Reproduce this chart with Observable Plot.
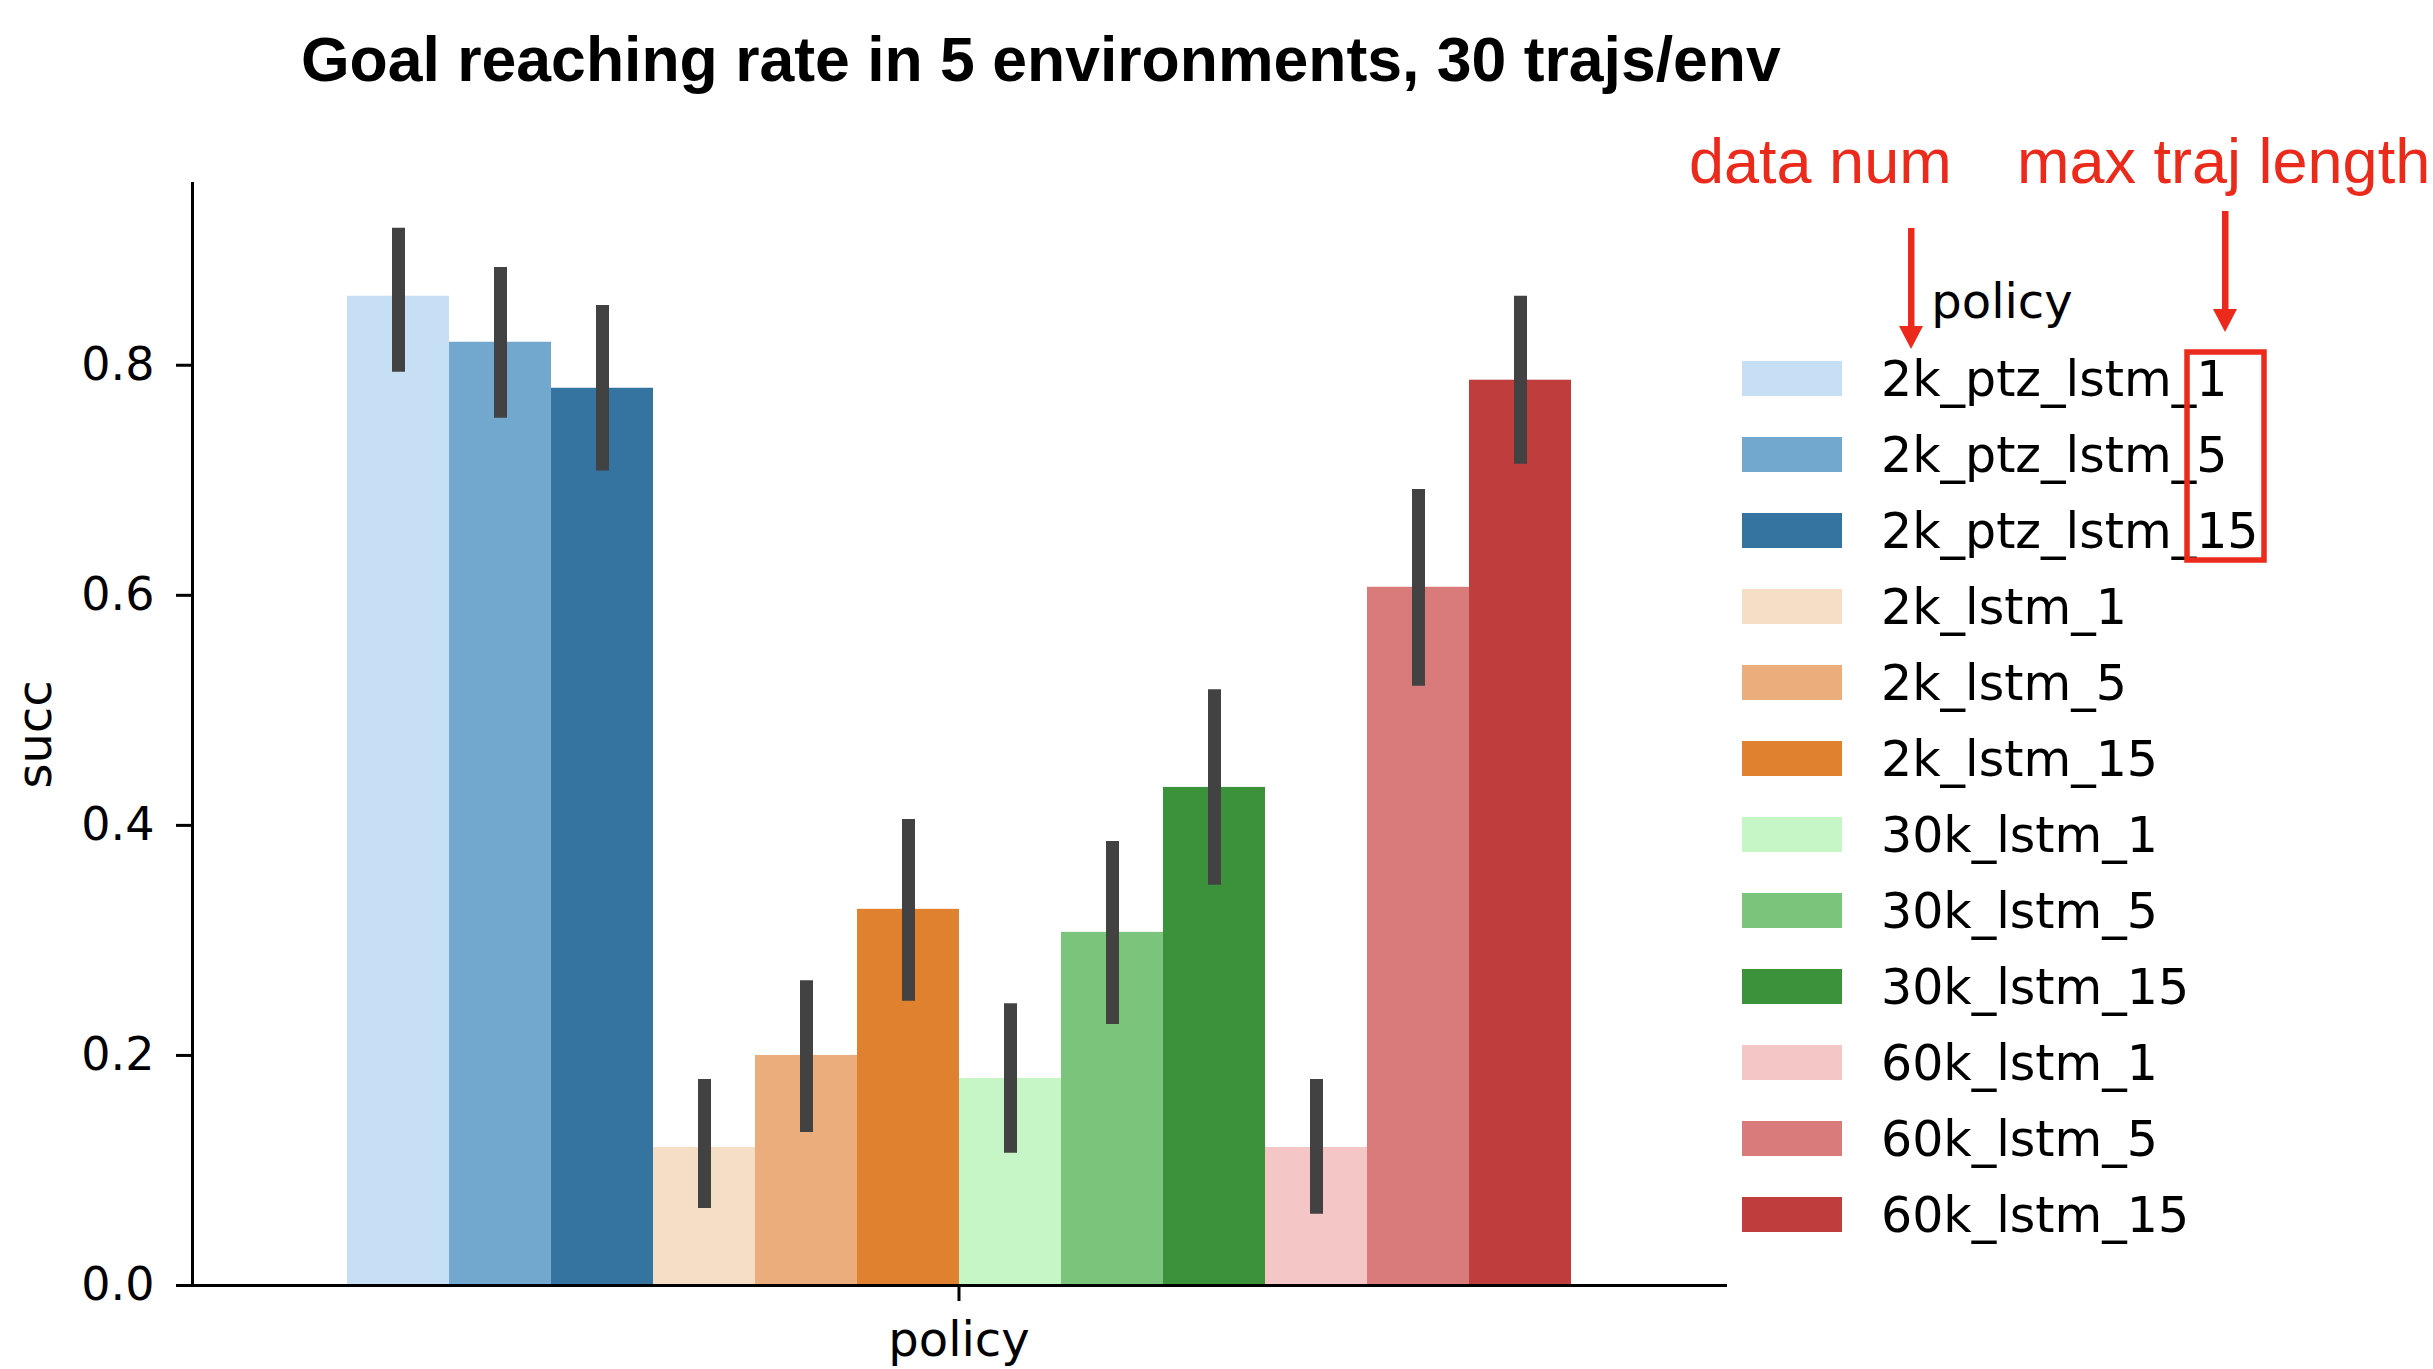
<!DOCTYPE html>
<html>
<head>
<meta charset="utf-8">
<script src="https://cdn.jsdelivr.net/npm/d3@7"></script>
<script src="https://cdn.jsdelivr.net/npm/@observablehq/plot@0.6"></script>
<style>
  html, body { margin: 0; padding: 0; background: #fff; }
  #page { position: relative; width: 2433px; height: 1369px; overflow: hidden; background: #fff; }
  #title { position: absolute; left: 301px; top: 28px; font-family: "Liberation Sans", Arial, sans-serif; font-weight: bold; font-size: 62.5px; line-height: 62.5px; white-space: nowrap; color: #000; }
  #chart { position: absolute; left: 0; top: 120px; }
  .leg-title { position: absolute; font-family: "DejaVu Sans", sans-serif; font-size: 48px; line-height: 48px; white-space: nowrap; color: #000; transform: translateX(-50%); }
  .leg-patch { position: absolute; width: 100px; height: 35px; }
  .leg-label { position: absolute; font-family: "DejaVu Sans", sans-serif; font-size: 49px; line-height: 49px; white-space: nowrap; color: #000; }
  .anno { position: absolute; font-family: "Liberation Sans", Arial, sans-serif; font-size: 63px; line-height: 63px; white-space: nowrap; color: #ec2a1c; }
  #overlay { position: absolute; left: 0; top: 0; pointer-events: none; }
</style>
</head>
<body>
<div id="page">
  <div id="title"></div>
  <div id="chart"></div>
  <div id="legend"></div>
  <div id="annos"></div>
  <svg id="overlay" width="2433" height="1369" xmlns="http://www.w3.org/2000/svg">
    <g fill="#ec2a1c" stroke="none">
      <rect x="1908" y="228" width="6.5" height="100"></rect>
      <polygon points="1899,326 1923,326 1911,349"></polygon>
      <rect x="2222" y="211" width="6.5" height="100"></rect>
      <polygon points="2213,309 2237,309 2225,332"></polygon>
    </g>
    <rect x="2187" y="352" width="77" height="208" fill="none" stroke="#ec2a1c" stroke-width="5.5"></rect>
  </svg>
</div>
<script>
// ---- data ----
const titleText = "Goal reaching rate in 5 environments, 30 trajs/env";
const policies = [
  "2k_ptz_lstm_1", "2k_ptz_lstm_5", "2k_ptz_lstm_15",
  "2k_lstm_1", "2k_lstm_5", "2k_lstm_15",
  "30k_lstm_1", "30k_lstm_5", "30k_lstm_15",
  "60k_lstm_1", "60k_lstm_5", "60k_lstm_15"
];
const succ   = [0.860, 0.820, 0.780, 0.120, 0.200, 0.327, 0.180, 0.307, 0.433, 0.120, 0.607, 0.787];
const ciLow  = [0.794, 0.754, 0.708, 0.067, 0.133, 0.247, 0.115, 0.227, 0.348, 0.062, 0.521, 0.714];
const ciHigh = [0.919, 0.885, 0.852, 0.179, 0.265, 0.405, 0.245, 0.386, 0.518, 0.179, 0.692, 0.860];
const colors = [
  "#c6dff4", "#72a8cd", "#3573a1",
  "#f6dec6", "#ebad7b", "#e0812f",
  "#c6f5c6", "#7bc47c", "#3b923b",
  "#f4c6c6", "#d97b7b", "#bf3d3d"
];
const yTicks = [0, 0.2, 0.4, 0.6, 0.8];
const yMax = 0.958;
const xLabel = "policy";
const yLabel = "succ";
const legendTitle = "policy";
const annoLeft = "data num";
const annoRight = "max traj length";

// ---- table ----
const data = policies.map((p, i) => ({policy: p, succ: succ[i], lo: ciLow[i], hi: ciHigh[i], group: xLabel}));

document.getElementById("title").textContent = titleText;

const chart = Plot.plot({
  width: 1760,
  height: 1249,
  marginTop: 63,
  marginBottom: 84,
  marginLeft: 192,
  marginRight: 35,
  style: {fontFamily: '"DejaVu Sans", sans-serif', fontSize: "46px", color: "#000", background: "transparent", overflow: "visible"},
  facet: {data, x: "group"},
  fx: {padding: 0, label: null},
  x: {type: "band", domain: policies, paddingInner: 0, paddingOuter: 1.5, axis: null},
  y: {domain: [0, yMax]},
  color: {domain: policies, range: colors},
  marks: [
    Plot.barY(data, {x: "policy", y: "succ", fill: "policy"}),
    Plot.ruleX(data, {x: "policy", y1: "lo", y2: "hi", stroke: "#424242", strokeWidth: 13}),
    Plot.frame({anchor: "left", stroke: "#000", strokeWidth: 3}),
    Plot.frame({anchor: "bottom", stroke: "#000", strokeWidth: 3}),
    Plot.axisY({ticks: yTicks, tickFormat: d => d.toFixed(1), tickSize: 16, tickPadding: 22, strokeWidth: 3, label: null, fontSize: 46}),
    Plot.axisFx({anchor: "bottom", tickSize: 16, tickPadding: 20, strokeWidth: 3, label: null, fontSize: 48}),
    Plot.text([yLabel], {frameAnchor: "left", rotate: -90, dx: -157, textAnchor: "middle", lineAnchor: "middle", fontSize: 48})
  ]
});
document.getElementById("chart").appendChild(chart);

// ---- legend ----
const legend = document.getElementById("legend");
const lt = document.createElement("div");
lt.className = "leg-title";
lt.style.left = "2002px";
lt.style.top = "277.4px";
lt.textContent = legendTitle;
legend.appendChild(lt);
policies.forEach((p, i) => {
  const top = 360.6 + i * 76.04;
  const patch = document.createElement("div");
  patch.className = "leg-patch";
  patch.style.left = "1742px";
  patch.style.top = top + "px";
  patch.style.background = colors[i];
  legend.appendChild(patch);
  const lab = document.createElement("div");
  lab.className = "leg-label";
  lab.style.left = "1881px";
  lab.style.top = (top - 6.1) + "px";
  lab.textContent = p;
  legend.appendChild(lab);
});

// ---- annotations ----
const annos = document.getElementById("annos");
[[annoLeft, 1689], [annoRight, 2017]].forEach(([t, x]) => {
  const d = document.createElement("div");
  d.className = "anno";
  d.style.left = x + "px";
  d.style.top = "129.7px";
  d.textContent = t;
  annos.appendChild(d);
});
</script>
</body>
</html>
